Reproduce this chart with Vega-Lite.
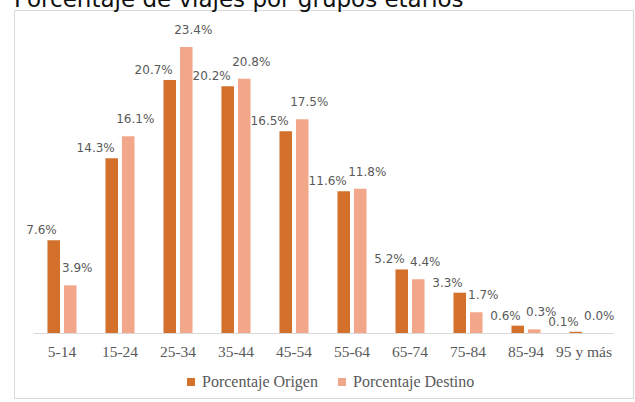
{
  "$schema": "https://vega.github.io/schema/vega-lite/v6.json",
  "width": 619,
  "height": 388,
  "autosize": {"type": "none"},
  "padding": {"left": 14, "top": 10, "right": 2, "bottom": 4},
  "background": "white",
  "config": {
    "view": {"stroke": "#d9d9d9", "strokeWidth": 1}
  },
  "title": {
    "text": "Porcentaje de viajes por grupos etarios",
    "anchor": "start",
    "frame": "group",
    "offset": -2,
    "font": "DejaVu Sans",
    "fontSize": 23,
    "fontWeight": "normal",
    "color": "#111111"
  },
  "data": {
    "values": [
      {"grupo": "5-14", "serie": "Porcentaje Origen", "valor": 0.076},
      {"grupo": "5-14", "serie": "Porcentaje Destino", "valor": 0.039},
      {"grupo": "15-24", "serie": "Porcentaje Origen", "valor": 0.143},
      {"grupo": "15-24", "serie": "Porcentaje Destino", "valor": 0.161},
      {"grupo": "25-34", "serie": "Porcentaje Origen", "valor": 0.207},
      {"grupo": "25-34", "serie": "Porcentaje Destino", "valor": 0.234},
      {"grupo": "35-44", "serie": "Porcentaje Origen", "valor": 0.202},
      {"grupo": "35-44", "serie": "Porcentaje Destino", "valor": 0.208},
      {"grupo": "45-54", "serie": "Porcentaje Origen", "valor": 0.165},
      {"grupo": "45-54", "serie": "Porcentaje Destino", "valor": 0.175},
      {"grupo": "55-64", "serie": "Porcentaje Origen", "valor": 0.116},
      {"grupo": "55-64", "serie": "Porcentaje Destino", "valor": 0.118},
      {"grupo": "65-74", "serie": "Porcentaje Origen", "valor": 0.052},
      {"grupo": "65-74", "serie": "Porcentaje Destino", "valor": 0.044},
      {"grupo": "75-84", "serie": "Porcentaje Origen", "valor": 0.033},
      {"grupo": "75-84", "serie": "Porcentaje Destino", "valor": 0.017},
      {"grupo": "85-94", "serie": "Porcentaje Origen", "valor": 0.006},
      {"grupo": "85-94", "serie": "Porcentaje Destino", "valor": 0.003},
      {"grupo": "95 y más", "serie": "Porcentaje Origen", "valor": 0.001},
      {"grupo": "95 y más", "serie": "Porcentaje Destino", "valor": 0.0}
    ]
  },
  "encoding": {
    "x": {
      "field": "grupo",
      "type": "nominal",
      "sort": null,
      "scale": {"range": [19, 599], "paddingInner": 0, "paddingOuter": 0},
      "axis": {
        "title": null,
        "orient": "bottom",
        "offset": -65,
        "labelAngle": 0,
        "ticks": false,
        "domainColor": "#d9d9d9",
        "domainWidth": 1,
        "labelPadding": 11,
        "labelFont": "Liberation Serif",
        "labelFontSize": 15.5,
        "labelColor": "#595959"
      }
    },
    "xOffset": {
      "field": "serie",
      "type": "nominal",
      "scale": {
        "domain": ["Porcentaje Origen", "Porcentaje Destino"],
        "paddingInner": 0.24,
        "paddingOuter": 0.877
      }
    },
    "y": {
      "field": "valor",
      "type": "quantitative",
      "scale": {"domain": [0, 0.25], "range": [323, 17.5], "nice": false},
      "axis": null
    }
  },
  "layer": [
    {
      "mark": {"type": "bar"},
      "encoding": {
        "color": {
          "field": "serie",
          "type": "nominal",
          "scale": {
            "domain": ["Porcentaje Origen", "Porcentaje Destino"],
            "range": ["#D3702C", "#F2A78A"]
          },
          "legend": {
            "title": null,
            "orient": "none",
            "direction": "horizontal",
            "legendX": 169,
            "legendY": 364,
            "padding": 0,
            "symbolType": "square",
            "symbolSize": 64,
            "symbolStrokeWidth": 0,
            "labelFont": "Liberation Serif",
            "labelFontSize": 16,
            "labelColor": "#595959",
            "labelOffset": 3,
            "columnPadding": 16
          }
        }
      }
    },
    {
      "transform": [{"filter": "datum.serie === 'Porcentaje Origen'"}],
      "mark": {
        "type": "text",
        "align": "right",
        "baseline": "alphabetic",
        "dx": 3,
        "dy": -6,
        "font": "DejaVu Sans",
        "fontSize": 12,
        "color": "#595959"
      },
      "encoding": {
        "text": {"field": "valor", "type": "quantitative", "format": ".1%"}
      }
    },
    {
      "transform": [{"filter": "datum.serie === 'Porcentaje Destino'"}],
      "mark": {
        "type": "text",
        "align": "center",
        "baseline": "alphabetic",
        "dx": 7,
        "dy": -13,
        "font": "DejaVu Sans",
        "fontSize": 12,
        "color": "#595959"
      },
      "encoding": {
        "text": {"field": "valor", "type": "quantitative", "format": ".1%"}
      }
    }
  ]
}
